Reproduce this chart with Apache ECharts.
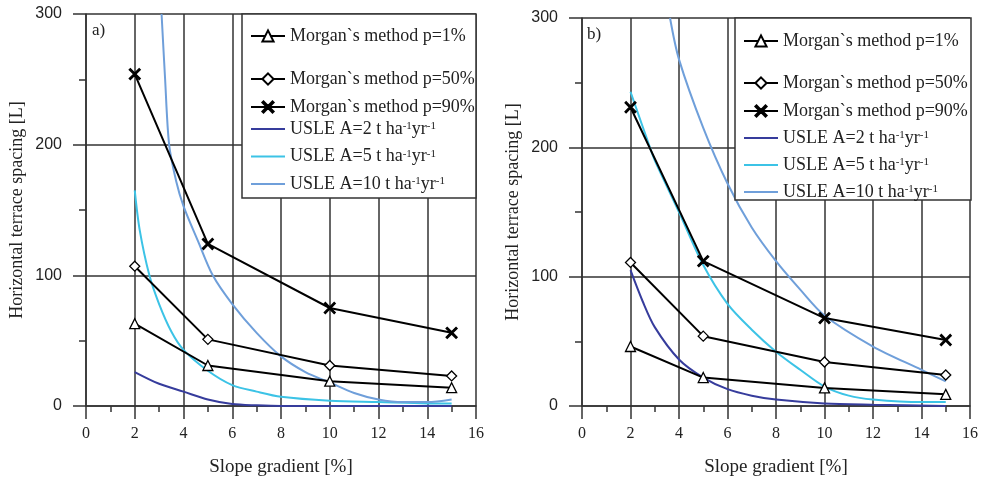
<!DOCTYPE html>
<html>
<head>
<meta charset="utf-8">
<script src="https://cdn.jsdelivr.net/npm/echarts@6/dist/echarts.min.js"></script>
<style>
  html, body { margin: 0; padding: 0; background: #fff; }
  #chart { width: 985px; height: 482px; }
</style>
</head>
<body>
<div id="chart"></div>
<script>
// Morgan: slope points 2, 5, 10, 15 %
var slopes = [2, 5, 10, 15];
var morgan1A = [63, 31, 19, 14];
var morgan50A = [107, 51, 31, 23];
var morgan90A = [254, 124, 75, 56];
var morgan1B = [46, 22, 14, 9];
var morgan50B = [111, 54, 34, 24];
var morgan90B = [231, 112, 68, 51];

// USLE curves
var usle2AX = [2, 3, 4, 5, 6, 7, 8, 10, 12, 15];
var usle2AY = [26, 17, 11, 5, 1.5, 0.5, 0, 0, 0, 0];
var usle5AX = [2, 2.2, 2.6, 3, 3.5, 4, 5, 6, 7, 8, 10, 12, 14, 15];
var usle5AY = [165, 135, 100, 78, 57, 43, 27, 16, 11, 7, 4, 3, 2, 2];
var usle10AX = [3.1, 3.24, 3.41, 3.7, 4, 4.6, 5.2, 6, 7, 8, 9, 10, 11, 12, 13, 14, 15];
var usle10AY = [300, 252, 200, 172, 153, 126, 100, 78, 56, 38, 26, 18, 10, 5, 3, 3, 5];

var usle2BX = [2, 2.5, 3, 4, 5, 6, 7, 8, 10, 12, 15];
var usle2BY = [105, 81, 61, 36, 22, 13, 8, 5, 2, 1, 0];
var usle5BX = [2, 2.8, 3, 4, 5, 6, 7, 8, 9, 10, 11, 12, 14, 15];
var usle5BY = [243, 200, 190, 150, 109, 79, 59, 42, 28, 15, 8, 5, 3, 3];
var usle10BX = [3.63, 4, 5, 6, 7, 8, 9, 10, 12, 14, 15];
var usle10BY = [300, 268, 215, 172, 138, 112, 90, 70, 46, 28, 19];

var names = ['Morgan`s method p=1%', 'Morgan`s method p=50%', 'Morgan`s method p=90%',
    'USLE A=2 t ha-1yr-1', 'USLE A=5 t ha-1yr-1', 'USLE A=10 t ha-1yr-1'];
var usleColors = ['#363c9c', '#3cc3e6', '#6f9fda'];
var crossPath = 'path://M0,1L1,0L5,4L9,0L10,1L6,5L10,9L9,10L5,6L1,10L0,9L4,5Z';

function pairs(xs, ys) {
    var out = [];
    for (var i = 0; i < xs.length; i++) out.push([xs[i], ys[i]]);
    return out;
}

function morganSeries(name, ys, idx, symbol, size, fill) {
    return {
        name: name, type: 'line', xAxisIndex: idx, yAxisIndex: idx,
        data: pairs(slopes, ys),
        symbol: symbol, symbolSize: size, showSymbol: true,
        lineStyle: { color: '#000', width: 2 },
        itemStyle: { color: fill, borderColor: '#000', borderWidth: 1.3 },
        z: 3
    };
}

function usleSeries(name, xs, ys, idx, color) {
    return {
        name: name, type: 'line', xAxisIndex: idx, yAxisIndex: idx,
        data: pairs(xs, ys), symbol: 'none', smooth: 0.3,
        lineStyle: { color: color, width: 2 },
        itemStyle: { color: color },
        clip: true, z: 2
    };
}

var gridLine = { show: true, lineStyle: { color: '#333', width: 1.5 } };

function xAxis(idx) {
    return {
        type: 'value', gridIndex: idx, min: 0, max: 16, interval: 2,
        name: 'Slope gradient [%]', nameLocation: 'middle', nameGap: 52,
        nameTextStyle: { fontFamily: 'Liberation Serif', fontSize: 19, color: '#222' },
        axisLine: { lineStyle: { color: '#333', width: 1.5 } },
        axisTick: { length: 13, lineStyle: { color: '#333', width: 1.5 } },
        minorTick: { show: true, splitNumber: 2, length: 6, lineStyle: { color: '#333', width: 1.5 } },
        axisLabel: { margin: 20, fontFamily: 'Liberation Serif', fontSize: 16, color: '#222' },
        splitLine: gridLine
    };
}

function yAxis(idx) {
    return {
        type: 'value', gridIndex: idx, min: 0, max: 300, interval: 100,
        name: 'Horizontal terrace spacing [L]', nameLocation: 'middle', nameGap: 60,
        nameTextStyle: { fontFamily: 'Liberation Serif', fontSize: 18, color: '#222' },
        axisLine: { show: true, lineStyle: { color: '#333', width: 1.5 } },
        axisTick: { show: true, length: 13, lineStyle: { color: '#333', width: 1.5 } },
        minorTick: { show: true, splitNumber: 2, length: 7, lineStyle: { color: '#333', width: 1.5 } },
        axisLabel: { margin: 24, fontFamily: 'Liberation Sans', fontSize: 16, color: '#222' },
        splitLine: gridLine
    };
}

function legendItem(n) {
    // USLE entries show a plain line, no marker
    return n.indexOf('USLE') === 0 ? { name: n, itemStyle: { opacity: 0 } } : { name: n };
}

function legend(left, top, data, gap) {
    return {
        left: left, top: top, orient: 'vertical', data: data.map(legendItem), padding: 0,
        itemWidth: 34, itemHeight: 14, itemGap: gap, selectedMode: false, z: 10,
        formatter: function (n) { return n.replace(/-1/g, '{s|-1}'); },
        textStyle: {
            fontFamily: 'Liberation Serif', fontSize: 18, color: '#222', lineHeight: 16,
            rich: { s: { fontSize: 11, verticalAlign: 'top' } }
        }
    };
}

var series = [];
[[morgan1A, morgan50A, morgan90A, [usle2AX, usle2AY], [usle5AX, usle5AY], [usle10AX, usle10AY]],
 [morgan1B, morgan50B, morgan90B, [usle2BX, usle2BY], [usle5BX, usle5BY], [usle10BX, usle10BY]]]
.forEach(function (p, idx) {
    series.push(morganSeries(names[0], p[0], idx, 'triangle', 10, '#fff'));
    series.push(morganSeries(names[1], p[1], idx, 'diamond', 10, '#fff'));
    series.push(morganSeries(names[2], p[2], idx, crossPath, 11, '#000'));
    for (var k = 0; k < 3; k++) {
        series.push(usleSeries(names[3 + k], p[3 + k][0], p[3 + k][1], idx, usleColors[k]));
    }
});

var chart = echarts.init(document.getElementById('chart'));
chart.setOption({
    backgroundColor: '#fff',
    animation: false,
    grid: [
        { left: 86, top: 14, width: 390, height: 393 },
        { left: 582, top: 18, width: 388, height: 392 }
    ],
    xAxis: [xAxis(0), xAxis(1)],
    yAxis: [yAxis(0), yAxis(1)],
    legend: [
        legend(250, 27, names.slice(0, 1), 10),
        legend(250, 70, names.slice(1, 3), 10),
        legend(250, 120, names.slice(3), 9.5),
        legend(743, 32, names.slice(0, 1), 10),
        legend(743, 74, names.slice(1, 3), 10),
        legend(743, 129, names.slice(3), 9)
    ],
    graphic: [
        { type: 'rect', shape: { x: 242, y: 14, width: 234, height: 184 }, z: 5,
          style: { fill: '#fff', stroke: '#333', lineWidth: 1.5 } },
        { type: 'rect', shape: { x: 735, y: 18, width: 236, height: 182 }, z: 5,
          style: { fill: '#fff', stroke: '#333', lineWidth: 1.5 } },
        { type: 'text', x: 92, y: 22, z: 6,
          style: { text: 'a)', fontFamily: 'Liberation Serif', fontSize: 17, fill: '#222' } },
        { type: 'text', x: 587, y: 26, z: 6,
          style: { text: 'b)', fontFamily: 'Liberation Serif', fontSize: 17, fill: '#222' } }
    ],
    series: series
});
</script>
</body>
</html>
